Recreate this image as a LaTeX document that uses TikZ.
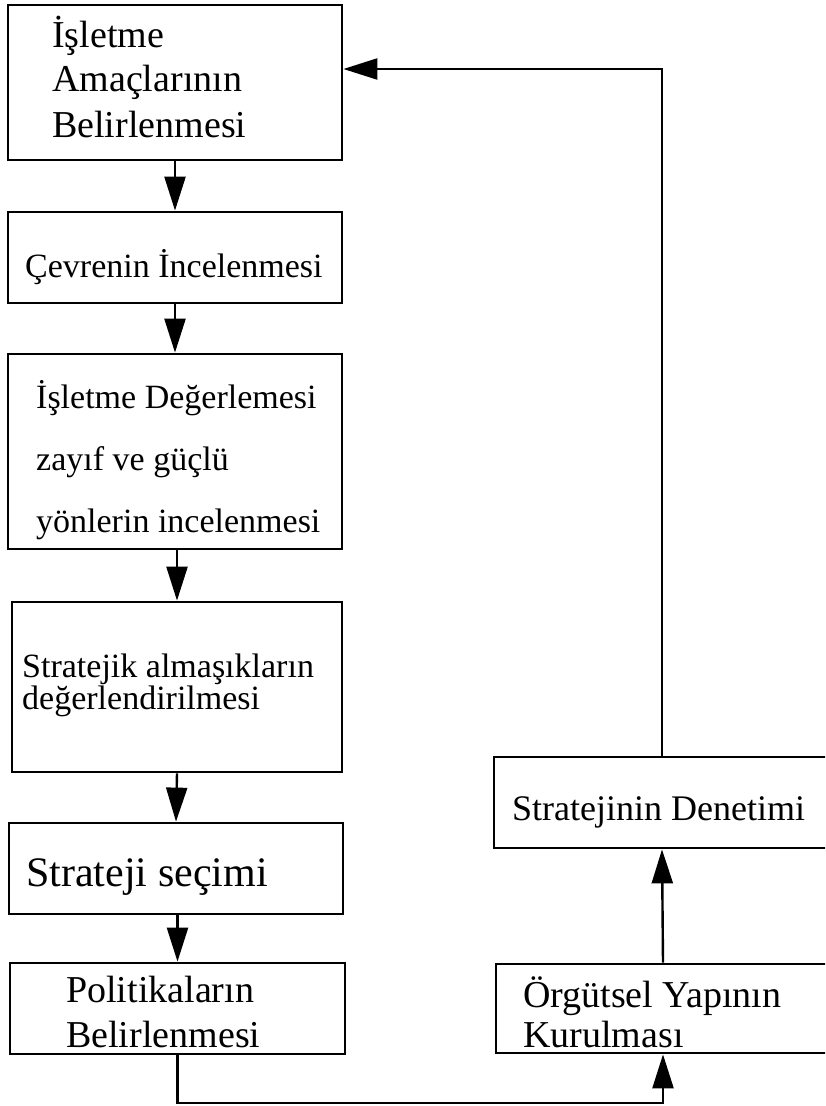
\documentclass[tikz,border=0pt]{standalone}
\usepackage{fontspec}
\setmainfont{Liberation Serif}
\usetikzlibrary{arrows.meta}
\begin{document}
\begin{tikzpicture}[x=1pt,y=-1pt,
  box/.style={draw,line width=2.8pt,inner sep=0pt,minimum width=#1},
  lbl/.style={anchor=base west,inner sep=0pt},
  fA/.style={font=\fontsize{38}{44}\selectfont},
  fB/.style={font=\fontsize{34}{40}\selectfont},
  fC/.style={font=\fontsize{42}{48}\selectfont},
  fD/.style={font=\fontsize{36}{42}\selectfont},
  arr/.style={line width=2.4pt,-{Triangle[length=34pt,width=21pt]}}]
\useasboundingbox (0,0) rectangle (825,1106);
\clip (0,0) rectangle (825,1106);

% process boxes (left column)
\node[box=334pt,minimum height=155pt] (b1) at (175,82.5) {};
\node[box=334pt,minimum height=91pt]  (b2) at (175,257.5) {};
\node[box=334pt,minimum height=195pt] (b3) at (175,451.5) {};
\node[box=330pt,minimum height=170pt] (b4) at (177,687) {};
\node[box=334pt,minimum height=91pt]  (b5) at (176,868.5) {};
\node[box=335pt,minimum height=91pt]  (b6) at (177.5,1008.5) {};
% right column
\node[box=334pt,minimum height=89pt]  (b7) at (663,1008.5) {};
\node[box=336pt,minimum height=91pt]  (b8) at (662,802.5) {};

% labels
\node[lbl,fA] (t1a) at (52,47)  {İşletme};
\node[lbl,fA] (t1b) at (52,91)  {Amaçlarının};
\node[lbl,fA] (t1c) at (52,137) {Belirlenmesi};
\node[lbl,fB] (t2)  at (25,277) {Çevrenin İncelenmesi};
\node[lbl,fB] (t3a) at (36,408) {İşletme Değerlemesi};
\node[lbl,fB] (t3b) at (36,470) {zayıf ve güçlü};
\node[lbl,fB] (t3c) at (36,532) {yönlerin incelenmesi};
\node[lbl,fB] (t4a) at (22,677) {Stratejik almaşıkların};
\node[lbl,fB] (t4b) at (22,709) {değerlendirilmesi};
\node[lbl,fC] (t5)  at (26,886) {Strateji seçimi};
\node[lbl,fA] (t6a) at (66,1002) {Politikaların};
\node[lbl,fA] (t6b) at (66,1047) {Belirlenmesi};
\node[lbl,fA] (t7a) at (523,1007) {Örgütsel Yapının};
\node[lbl,fA] (t7b) at (523,1047) {Kurulması};
\node[lbl,fD] (t8)  at (512,820) {Stratejinin Denetimi};

% connectors
\draw[arr] (b1.south) -- (b2.north);
\draw[arr] (b2.south) -- (b3.north);
\draw[arr] (b3.south -| b4.south) -- (b4.north);
\draw[arr] (b4.south) -- (b5.north);
\draw[arr] (b5.south -| b6.south) -- (b6.north);

\coordinate (lowbend) at (177.5,1103);
\draw[arr] (b6.south) -- (lowbend) -| (b7.south);
\draw[arr] (b7.north) -- (b8.south);

\coordinate (topbend) at (662,69);
\draw[arr] (b8.north) -- (topbend) -- (topbend -| b1.east);
\end{tikzpicture}
\end{document}
